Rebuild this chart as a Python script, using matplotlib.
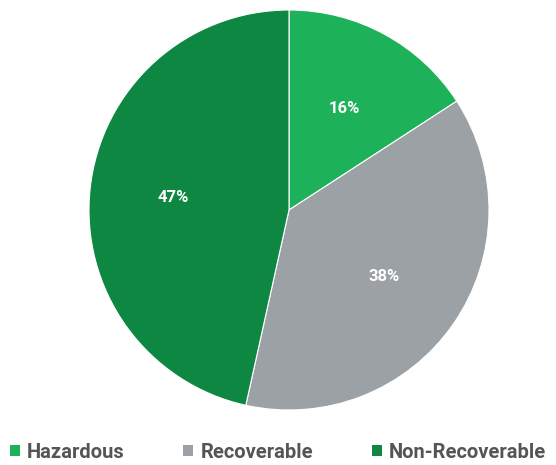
import matplotlib.pyplot as plt
from matplotlib.patches import Patch

labels = ['Hazardous', 'Recoverable', 'Non-Recoverable']
values = [16, 38, 47]
colors = ['#1db25a', '#9ca1a5', '#0e8743']

plt.rcParams['font.family'] = ['Roboto', 'DejaVu Sans']

fig = plt.figure(figsize=(5.56, 4.65), dpi=100)
ax = fig.add_axes([89 / 556, 55 / 465, 400 / 556, 400 / 465])

wedges, texts, autotexts = ax.pie(
    values, colors=colors, startangle=90, counterclock=False,
    autopct='%.0f%%', pctdistance=0.58,
    wedgeprops=dict(edgecolor='white', linewidth=0.8),
    textprops=dict(color='white', fontsize=12, fontweight='bold'))
ax.set_xlim(-1.0, 1.0)
ax.set_ylim(-1.0, 1.0)
ax.set_aspect('equal')

handles = [Patch(facecolor=c, edgecolor='none') for c in colors]
fig.legend(handles, labels, loc='center', bbox_to_anchor=(0.5, 13 / 465),
           ncol=3, frameon=False, handlelength=0.5, handleheight=0.5,
           handletextpad=0.35, columnspacing=2.9,
           prop=dict(size=14.5, weight='bold'), labelcolor='#555555')

fig.savefig('out.png', dpi=100)
